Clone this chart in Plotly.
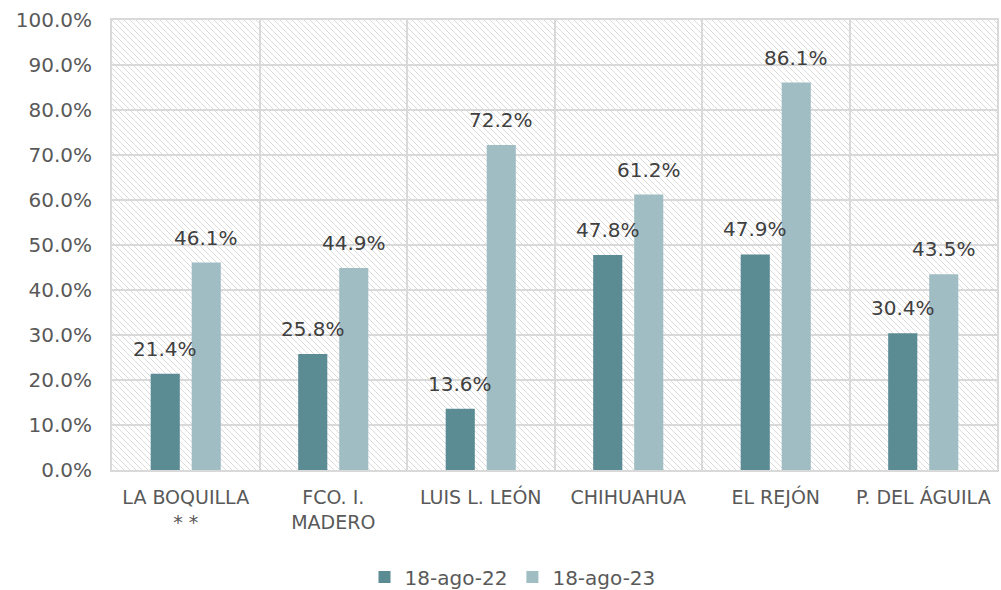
import base64
import plotly.graph_objects as go

categories = ["LA BOQUILLA<br>* *", "FCO. I.<br>MADERO", "LUIS L. LEÓN", "CHIHUAHUA", "EL REJÓN", "P. DEL ÁGUILA"]
series_names = ["18-ago-22", "18-ago-23"]
values_22 = [21.4, 25.8, 13.6, 47.8, 47.9, 30.4]
values_23 = [46.1, 44.9, 72.2, 61.2, 86.1, 43.5]
y_tick_vals = [0, 10, 20, 30, 40, 50, 60, 70, 80, 90, 100]
y_tick_text = [f"{v:.1f}%" for v in y_tick_vals]

colors = ["#5b8b93", "#a0bdc4"]
FONT = "DejaVu Sans"
W, H = 1001, 590
ML, MR, MT, MB = 112, 4, 20, 120
PW, PH = W - ML - MR, H - MT - MB

# hatch background (decoration)
dots = "".join(f'<rect x="{i}" y="{i}" width="1" height="1" fill="#dcdcdc"/>' for i in range(6))
svg = f'''<svg xmlns="http://www.w3.org/2000/svg" width="{PW}" height="{PH}" viewBox="0 0 {PW} {PH}" shape-rendering="crispEdges">
<defs><pattern id="p" patternUnits="userSpaceOnUse" width="6" height="6">{dots}</pattern></defs>
<rect width="{PW}" height="{PH}" fill="url(#p)"/></svg>'''
svg_uri = "data:image/svg+xml;base64," + base64.b64encode(svg.encode()).decode()

fig = go.Figure()
for name, vals, col in zip(series_names, [values_22, values_23], colors):
    fig.add_trace(go.Bar(x=categories, y=vals, name=name, marker=dict(color=col, line=dict(width=0))))

annotations = []
for k, vals in enumerate([values_22, values_23]):
    for cat, v in zip(categories, vals):
        annotations.append(dict(x=cat, y=v, xref="x", yref="y", text=f"{v:.1f}%",
                                showarrow=False, yanchor="bottom", xanchor="center",
                                xshift=(-20.5 if k == 0 else 20.5), yshift=11,
                                font=dict(family=FONT, size=20, color="#404040")))

fig.update_layout(
    width=W, height=H,
    margin=dict(l=ML, r=MR, t=MT, b=MB, autoexpand=False),
    paper_bgcolor="white", plot_bgcolor="white",
    barmode="group", bargap=0.444, bargroupgap=0.29,
    font=dict(family=FONT, size=20, color="#595959"),
    showlegend=True,
    legend=dict(orientation="h", x=0.512, xanchor="center", xref="container",
                y=1 - 577 / H, yanchor="middle", yref="container",
                font=dict(family=FONT, size=20, color="#595959"),
                itemwidth=30, traceorder="normal"),
    annotations=annotations,
    images=[dict(source=svg_uri, xref="paper", yref="paper", x=0, y=1, sizex=1, sizey=1,
                 xanchor="left", yanchor="top", sizing="stretch", layer="below")],
)
fig.update_xaxes(type="category", tickson="boundaries", showgrid=True, gridcolor="#d9d9d9", gridwidth=2,
                 showline=True, mirror=True, linecolor="#d9d9d9", linewidth=2, ticks="",
                 automargin=False,
                 tickfont=dict(family=FONT, size=19, color="#595959"), ticklabelstandoff=9)
fig.update_yaxes(range=[0, 100], tickvals=y_tick_vals, ticktext=y_tick_text, showgrid=True,
                 gridcolor="#d9d9d9", gridwidth=2, zeroline=False, showline=True, mirror=True,
                 linecolor="#d9d9d9", linewidth=2, ticks="", automargin=False,
                 tickfont=dict(family=FONT, size=20, color="#595959"), ticklabelstandoff=14)

fig.write_html("out.html", config={"displayModeBar": False},
               post_script="document.body.style.margin='0';")
